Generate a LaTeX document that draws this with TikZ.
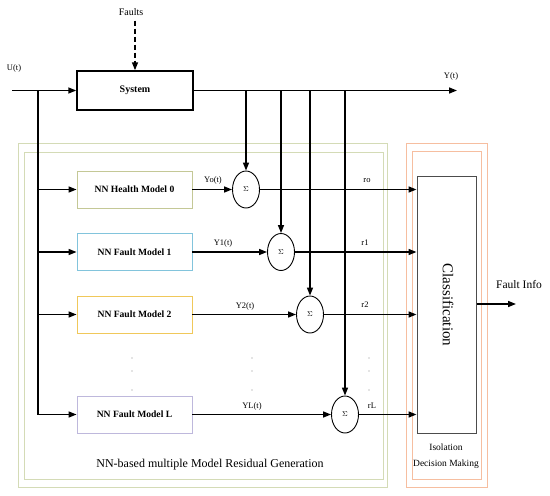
\documentclass[tikz,border=0pt]{standalone}
\usepackage{fontspec}
\setmainfont{Liberation Serif}
\usetikzlibrary{arrows.meta,positioning,shapes.geometric,calc}

\definecolor{boxgreen}{RGB}{212,219,182}
\definecolor{boxorange}{RGB}{246,190,160}
\definecolor{hmodel}{RGB}{196,200,150}
\definecolor{fmodelone}{RGB}{130,196,220}
\definecolor{fmodeltwo}{RGB}{240,200,90}
\definecolor{fmodell}{RGB}{190,184,220}

\tikzset{
    flow/.style={line width=1.5pt, -{Triangle[length=8pt,width=6pt]}},
    wire/.style={line width=1.5pt},
    model/.style={draw=#1, line width=0.9pt, minimum width=115pt, minimum height=37pt, inner sep=0pt, font=\fontsize{9.6}{11}\selectfont\bfseries},
    summer/.style={draw, ellipse, line width=0.9pt, minimum width=27pt, minimum height=37pt, inner sep=0pt, font=\fontsize{7.5}{8}\selectfont},
    lbl/.style={font=\fontsize{8.5}{10}\selectfont, inner sep=1pt},
    frame/.style={draw=#1, line width=0.8pt}
}

\begin{document}
\begin{tikzpicture}[x=1pt, y=-1pt]
    \useasboundingbox (0,0) rectangle (550,496);

    % group frames
    \draw[frame=boxgreen] (18,143) rectangle (387,487);
    \draw[frame=boxgreen] (24,152) rectangle (383,479);
    \draw[frame=boxorange] (406,143) rectangle (487,487);
    \draw[frame=boxorange] (412,151) rectangle (481,479);

    \node[draw, line width=1.5pt, minimum width=116pt, minimum height=39pt, inner sep=0pt, font=\fontsize{10}{11}\selectfont\bfseries] (sys) at (135,90.5) {System};
    \coordinate (uin) at (12,90.5);
    \coordinate (yout) at (457,90.5);
    \coordinate (br) at (38,90.5);
    \node[lbl, font=\fontsize{10}{11}\selectfont] (faults) at (131,12) {Faults};
    \node[lbl] (ulbl) at (14,68) {U(t)};
    \node[lbl] (ylbl) at (451,76) {Y(t)};

    \draw[flow] (uin) -- (sys.west);
    \draw[flow] (sys.east) -- (yout);
    \draw[flow, dash pattern=on 5pt off 3pt] ($(faults.south -| sys.north)+(0,4)$) -- (sys.north);

    % model bank
    \node[model=hmodel] (m0) at (134.5,189.5) {NN Health Model 0};
    \node[model=fmodelone] (m1) at (134.5,252) {NN Fault Model 1};
    \node[model=fmodeltwo] (m2) at (134.5,314.5) {NN Fault Model 2};
    \node[model=fmodell] (mL) at (134.5,414.5) {NN Fault Model L};

    \node[summer] (s0) at (246,189.5) {$\Sigma$};
    \node[summer] (s1) at (281,252) {$\Sigma$};
    \node[summer] (s2) at (310,314.5) {$\Sigma$};
    \node[summer] (sL) at (345,414.5) {$\Sigma$};

    \node[draw=black!70, line width=1pt, minimum width=59pt, minimum height=257pt, inner sep=0pt] (cls) at (446.5,304.5) {};
    \node[rotate=-90, font=\fontsize{15}{17}\selectfont] (clstext) at (448,305) {Classification};
    \coordinate (finfo) at (516,304);
    \node[font=\fontsize{11.5}{13}\selectfont, inner sep=0pt] (filbl) at (519,285) {Fault Info};
    \draw[flow] (cls.east |- finfo) -- (finfo);

    \draw[wire] (br) -- (br |- mL);
    \foreach \m/\s in {m0/s0, m1/s1, m2/s2, mL/sL} {
        \draw[flow] (br |- \m) -- (\m.west);
        \draw[flow] (\m.east) -- (\s.west);
        \draw[flow] (\s.north |- sys.east) -- (\s.north);
        \draw[flow] (\s.east) -- (\s -| cls.west);
    }

    % signal labels
    \node[lbl] (y0lbl) at (213,180) {Yo(t)};
    \node[lbl] (y1lbl) at (223,243) {Y1(t)};
    \node[lbl] (y2lbl) at (245,306) {Y2(t)};
    \node[lbl] (yLlbl) at (252,406) {YL(t)};
    \node[lbl] (r0lbl) at (367,181) {ro};
    \node[lbl] (r1lbl) at (365,243) {r1};
    \node[lbl] (r2lbl) at (365,305) {r2};
    \node[lbl] (rLlbl) at (372,406) {rL};

    % ellipsis dots
    \foreach \x in {132,252,369} {
        \foreach \y in {358,371,390} {
            \fill[black!45] (\x,\y) circle (0.6pt);
        }
    }

    \node[font=\fontsize{12}{14}\selectfont] (nnlbl) at (210,465) {NN-based multiple Model Residual Generation};
    \node[font=\fontsize{9.5}{16.5}\selectfont, align=center] (isolbl) at (446,456) {Isolation\\Decision Making};
\end{tikzpicture}
\end{document}
